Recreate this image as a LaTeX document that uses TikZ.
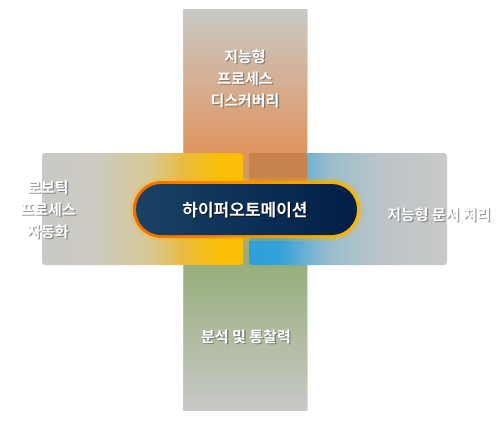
\documentclass[tikz,border=0pt]{standalone}
\usepackage{fontspec}
\setmainfont{Noto Sans CJK KR}[BoldFont={Noto Sans CJK KR Bold}]
\usepackage{tikz}

\definecolor{bandgray}{HTML}{C9C9C7}
\definecolor{bandorange}{HTML}{E0955E}
\definecolor{bandpeach}{HTML}{D4B9A6}
\definecolor{bandgreen}{HTML}{97AF7C}
\definecolor{bandsage}{HTML}{B9C0AB}
\definecolor{bandedge}{HTML}{F2C56A}
\definecolor{leftsand}{HTML}{CDCAC0}
\definecolor{leftbeige}{HTML}{D8C894}
\definecolor{leftamber}{HTML}{EBBB40}
\definecolor{leftyellow}{HTML}{F9BE05}
\definecolor{rightblue}{HTML}{2EA0D8}
\definecolor{rightsky}{HTML}{70B2D2}
\definecolor{rightmist}{HTML}{98BCCC}
\definecolor{rightpale}{HTML}{BCC4C8}
\definecolor{rightbrown}{HTML}{C7834B}
\definecolor{pillnavy}{HTML}{001E47}
\definecolor{pillsteel}{HTML}{1A4265}
\definecolor{pillorange}{HTML}{F26A00}
\definecolor{pillgold}{HTML}{F9B800}

% block shadings (25bp..75bp is the block itself)
\pgfdeclarehorizontalshading{leftblock}{100bp}{color(0bp)=(bandgray); color(25bp)=(bandgray);
  color(39bp)=(leftsand); color(52bp)=(leftbeige); color(60bp)=(leftamber);
  color(69bp)=(leftyellow); color(75bp)=(leftyellow); color(100bp)=(leftyellow)}
\pgfdeclarehorizontalshading{rightblock}{100bp}{color(0bp)=(rightblue); color(25bp)=(rightblue);
  color(33bp)=(rightblue!90!rightsky); color(40bp)=(rightsky); color(45bp)=(rightmist);
  color(58bp)=(rightpale); color(75bp)=(bandgray); color(100bp)=(bandgray)}

\tikzset{
  label text/.style={text=white, font=\bfseries\fontsize{15}{22}\selectfont, align=center, inner sep=0pt},
  label shadow/.style={label text, text=black!65, opacity=0.6},
}
\newcommand{\shadowlabel}[3]{%
  \node[label shadow, xshift=1.3pt, yshift=-1.3pt] (#1 shadow) at (#2) {#3};
  \node[label text] (#1) at (#2) {#3};
}

\begin{document}
\begin{tikzpicture}[x=1pt,y=-1pt]
\useasboundingbox (0,0) rectangle (497,425);

% vertical band
\shade[top color=bandgray, middle color=bandpeach, bottom color=bandorange] (183,10) rectangle (307,153);
\shade[top color=bandorange, bottom color=bandgreen] (183,153) rectangle (307,265);
\shade[top color=bandgreen, middle color=bandsage, bottom color=bandgray] (183,265) rectangle (307,410);
\draw[bandedge, line width=0.5pt, opacity=0.6] (183,10) -- (183,410);
\draw[bandedge, line width=0.5pt, opacity=0.6] (307,10) -- (307,410);

% left block
\shade[shading=leftblock, rounded corners=3pt] (42,153) rectangle (243,265);

% right block
\shade[shading=rightblock, rounded corners=3pt] (249,153) rectangle (447,265);
\fill[rightbrown, rounded corners=3pt] (249,153) rectangle (307,210);

% hyperautomation pill
\fill[pillgold, opacity=0.25, rounded corners=31.5pt] (130,178) rectangle (363,241);
\shade[left color=pillorange, right color=pillgold, rounded corners=28.5pt] (133,181) rectangle (360,238);
\shade[left color=pillsteel, middle color=pillnavy!90!pillsteel, right color=pillnavy, rounded corners=25.5pt] (136,184) rectangle (357,235);

% labels
\node[label shadow, text=black, xshift=1.3pt, yshift=-1.3pt, font=\bfseries\fontsize{17}{20}\selectfont] (hyper shadow) at (245,210) {하이퍼오토메이션};
\node[label text, font=\bfseries\fontsize{17}{20}\selectfont] (hyper) at (245,210) {하이퍼오토메이션};

\shadowlabel{discovery}{245,79}{지능형\\프로세스\\디스커버리}
\shadowlabel{rpa}{48,210}{로보틱\\프로세스\\자동화}
\shadowlabel{idp}{439,215}{지능형 문서 처리}
\shadowlabel{insight}{246,337}{분석 및 통찰력}

\end{tikzpicture}
\end{document}
